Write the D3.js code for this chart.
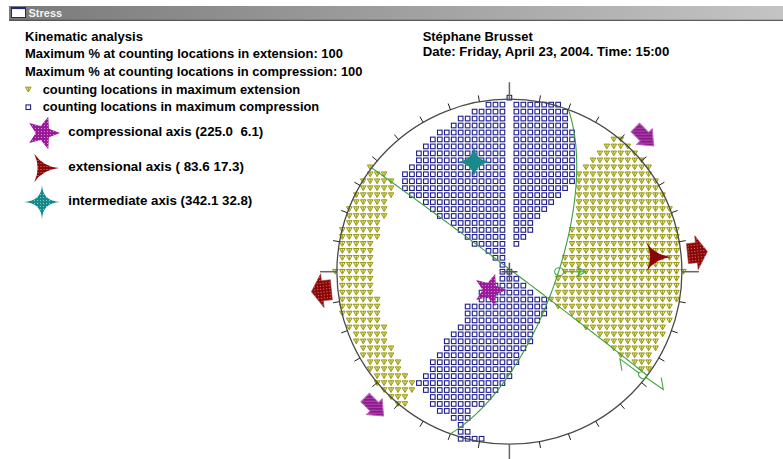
<!DOCTYPE html>
<html><head><meta charset="utf-8">
<script src="https://cdn.jsdelivr.net/npm/d3@7"></script>
<style>html,body{margin:0;padding:0;background:#fff;overflow:hidden}svg{display:block}text{white-space:pre}</style>
</head><body><svg id="c" width="783" height="459"></svg>
<script>
// ================= DATA =================
const windowTitle = "Stress";
const headerLines = ["Kinematic analysis",
  "Maximum % at counting locations in extension: 100",
  "Maximum % at counting locations in compression: 100"];
const legendItems = ["counting locations in maximum extension",
  "counting locations in maximum compression"];
const axisNames  = ["compressional axis", "extensional axis", "intermediate axis"];
const axisLabels = ["(225.0  6.1)", "( 83.6 17.3)", "(342.1 32.8)"];
const axisTrend  = [226.7, 84.2, 342.1];   // plotted positions (trend, plunge)
const axisPlunge = [77.4, 16.3, 33.6];
const authorLines = ["Stéphane Brusset", "Date: Friday, April 23, 2004. Time: 15:00"];
// nodal planes (dip direction, dip)
const planeDipDir = [37, 110];
const planeDip    = [89, 68];
// slip markers (trend, plunge)
const slipTrend  = [90, 127.5];
const slipPlunge = [66.7, 3];
// outer direction arrows (trend)
const extArrowTrend  = [84.2, 264.2];
const compArrowTrend = [45, 225];
// counting grid: rows [row, firstCol, lastCol]
const compressionRows = [
 [-25,0,0],
 [-24,-3,-1],[-24,1,7],[-23,-5,-1],[-23,1,8],[-22,-7,-1],[-22,1,8],[-21,-8,-1],[-21,1,8],
 [-20,-10,-1],[-20,1,9],[-19,-11,-1],[-19,1,9],[-18,-12,-1],[-18,1,9],[-17,-13,-1],[-17,1,9],
 [-16,-13,-1],[-16,1,9],[-15,-14,-1],[-15,1,9],[-14,-15,-1],[-14,1,9],[-13,-15,-1],[-13,1,9],
 [-12,-15,-1],[-12,1,8],[-11,-14,-1],[-11,1,7],[-10,-12,-1],[-10,1,6],[-9,-11,-1],[-9,1,5],
 [-8,-10,-1],[-8,1,4],[-7,-8,-1],[-7,1,3],[-6,-7,-1],[-6,1,3],[-5,-6,-1],[-5,1,2],
 [-4,-5,-1],[-4,1,1],[-3,-3,-1],[-2,-2,-1],[-1,-1,-1],
 [0,-1,0],[1,-1,1],[2,-3,2],[3,-4,3],[4,-4,5],[5,-6,5],[6,-6,5],[7,-6,4],[8,-7,3],
 [9,-8,3],[10,-9,3],[11,-9,2],[12,-10,1],[13,-11,1],[14,-11,0],[15,-12,0],[16,-13,-1],
 [17,-12,-2],[18,-11,-3],[19,-11,-4],[20,-10,-6],[21,-8,-6],[22,-7,-7],[23,-7,-6],[24,-7,-4]
];
const extensionRows = [
 [-15,-20,-20],[-14,-20,-18],[-13,-21,-17],[-12,-21,-17],[-11,-22,-17],[-10,-22,-18],
 [-9,-23,-18],[-8,-23,-18],[-7,-23,-19],[-6,-24,-19],[-5,-24,-19],[-4,-24,-20],[-3,-24,-20],
 [-2,-24,-20],[-1,-24,-20],[0,-25,-20],[1,-24,-20],[2,-24,-20],[3,-24,-20],[4,-24,-19],
 [5,-24,-19],[6,-24,-19],[7,-23,-19],[8,-23,-18],[9,-22,-18],[10,-22,-18],[11,-21,-17],
 [12,-21,-17],[13,-20,-16],[14,-20,-16],[15,-19,-15],[16,-19,-14],[17,-18,-14],[18,-17,-15],
 [19,-16,-15],
 [-19,15,16],[-18,14,17],[-17,13,18],[-16,12,19],[-15,11,20],[-14,10,20],[-13,10,21],
 [-12,10,21],[-11,10,22],[-10,10,22],[-9,10,23],[-8,10,23],[-7,10,23],[-6,9,24],[-5,9,24],
 [-4,9,24],[-3,9,24],[-2,8,24],[-1,8,24],[0,8,25],[1,7,24],[2,7,24],[3,7,24],[4,6,24],
 [5,7,23],[6,9,23],[7,10,23],[8,11,22],[9,13,22],[10,14,21],[11,15,21],[12,16,20],
 [13,18,20],[14,19,20]
];

// ================= LAYOUT =================
const W = 783, H = 459;
const cx = 509.4, cy = 271.7, R = 172.5, gridN = 24.78;
const svg = d3.select("#c");
const gx = d3.scaleLinear().domain([-gridN, gridN]).range([cx - R, cx + R]);
const gy = d3.scaleLinear().domain([-gridN, gridN]).range([cy - R, cy + R]);
const rS = d3.scaleLinear().domain([0, 1]).range([0, R]);
const rad = Math.PI / 180;
function proj(trend, plunge) {
  const r = rS(Math.SQRT2 * Math.sin((90 - plunge) / 2 * rad));
  return [cx + r * Math.sin(trend * rad), cy - r * Math.cos(trend * rad)];
}
function polar(trend, r) { return [cx + r * Math.sin(trend * rad), cy - r * Math.cos(trend * rad)]; }
function expand(rows) {
  const out = [];
  rows.forEach(([i, a, b]) => { for (let j = a; j <= b; j++) out.push({i, j}); });
  return out;
}

// defs
const defs = svg.append("defs");
const grad = defs.append("linearGradient").attr("id", "bar").attr("x1", 0).attr("x2", 1);
grad.append("stop").attr("offset", 0).attr("stop-color", "#7a7a7a");
grad.append("stop").attr("offset", 1).attr("stop-color", "#c4c4c4");
const sp = defs.append("pattern").attr("id", "speck").attr("width", 3).attr("height", 3)
  .attr("patternUnits", "userSpaceOnUse");
sp.append("rect").attr("x", 1).attr("y", 1).attr("width", 1).attr("height", 1).attr("fill", "#fff").attr("opacity", 0.5);
const hp = defs.append("pattern").attr("id", "hatch").attr("width", 3).attr("height", 3)
  .attr("patternUnits", "userSpaceOnUse").attr("patternTransform", "rotate(45)");
hp.append("rect").attr("width", 0.8).attr("height", 3).attr("fill", "#fff").attr("opacity", 0.3);

// title bar
svg.append("rect").attr("x", 9).attr("y", 6).attr("width", W - 9).attr("height", 14.5).attr("fill", "url(#bar)");
svg.append("line").attr("x1", 9).attr("x2", W).attr("y1", 20.3).attr("y2", 20.3).attr("stroke", "#3c3c3c").attr("stroke-width", 1);
svg.append("rect").attr("x", 11.5).attr("y", 7.5).attr("width", 14).attr("height", 10).attr("fill", "#fff").attr("stroke", "#1b2a78").attr("stroke-width", 1);
svg.append("line").attr("x1", 11.5).attr("x2", 25.5).attr("y1", 8.3).attr("y2", 8.3).attr("stroke", "#1b2a78").attr("stroke-width", 1.6);
svg.append("text").attr("x", 28.5).attr("y", 17).attr("font-family", "Liberation Sans, Arial, sans-serif")
  .attr("font-weight", "bold").attr("font-size", 11).attr("fill", "#f4f4f4").text(windowTitle);

const font = "Liberation Sans, Arial, sans-serif";
function label(x, y, str, len) {
  svg.append("text").attr("x", x).attr("y", y).attr("font-family", font).attr("font-weight", "bold")
    .attr("font-size", 12.5).attr("fill", "#000").attr("textLength", len).attr("lengthAdjust", "spacingAndGlyphs").text(str);
}
const headerLens = [118, 318, 337.5];
const headerY = [40.8, 58, 75.6];
headerLines.forEach((t, k) => label(25, headerY[k], t, headerLens[k]));
const legLens = [257.5, 276.5], legY = [93.5, 110.8];
legendItems.forEach((t, k) => label(42.7, legY[k], t, legLens[k]));
const axLens = [195, 175.7, 184], axY = [136.3, 170.6, 205.4];
axisNames.forEach((t, k) => label(68.3, axY[k], t + " " + axisLabels[k], axLens[k]));
const auLens = [110, 246.6], auY = [40.8, 56.3];
authorLines.forEach((t, k) => label(422.7, auY[k], t, auLens[k]));

// glyph builders
const triPath = "M-2.8,-2.3L2.8,-2.3L0,2.5Z";
function drawTri(g) {
  g.append("path").attr("d", triPath).attr("fill", "#ecec9c").attr("stroke", "#8c8c00").attr("stroke-width", 0.9);
  g.append("path").attr("d", "M0,-2.3V1.3").attr("stroke", "#8c8c00").attr("stroke-width", 0.8);
}
function drawSq(g) {
  g.append("rect").attr("x", -2.3).attr("y", -2.3).attr("width", 4.6).attr("height", 4.6)
    .attr("fill", "#fff").attr("stroke", "#1e1e8c").attr("stroke-width", 1.1);
}
// legend small glyphs
drawTri(svg.append("g").attr("transform", "translate(28.3,89.5)"));
drawSq(svg.append("g").attr("transform", "translate(28.3,107.2)"));

function starPath(n, ro, ri, rot) {
  const p = [];
  for (let k = 0; k < 2 * n; k++) {
    const a = (rot + k * 180 / n) * rad, r = k % 2 ? ri : ro;
    p.push([r * Math.cos(a), r * Math.sin(a)]);
  }
  return "M" + p.map(q => q[0].toFixed(2) + "," + q[1].toFixed(2)).join("L") + "Z";
}
function curvedStar(n, rx, ry, rc, rot) {
  let d = "";
  for (let k = 0; k < n; k++) {
    const a = (rot + k * 360 / n) * rad, b = (rot + (k + 1) * 360 / n) * rad, m = (rot + (k + 0.5) * 360 / n) * rad;
    const t0 = [rx * Math.cos(a), ry * Math.sin(a)], t1 = [rx * Math.cos(b), ry * Math.sin(b)];
    if (k === 0) d += "M" + t0[0].toFixed(2) + "," + t0[1].toFixed(2);
    d += "Q" + (rc * Math.cos(m)).toFixed(2) + "," + (rc * Math.sin(m)).toFixed(2) + " " + t1[0].toFixed(2) + "," + t1[1].toFixed(2);
  }
  return d + "Z";
}
const starColors = ["#9a1a9a", "#8c0606", "#178a8a"];
const starPaths = [starPath(5, 17, 7.3, 0), curvedStar(3, 16.5, 16.5, 1.5, 0), curvedStar(4, 18, 17, 1.2, 0)];
function drawStar(k, x, y, speck) {
  const g = svg.append("g").attr("transform", `translate(${x},${y})`);
  g.append("path").attr("d", starPaths[k]).attr("fill", starColors[k]);
  if (speck) g.append("path").attr("d", starPaths[k]).attr("fill", "url(#speck)");
  return g;
}
const legendStarPos = [[43, 133], [42.5, 168], [42, 202]];
legendStarPos.forEach((p, k) => drawStar(k, p[0], p[1], true));

// ================= STEREONET =================
const net = svg.append("g");
// counting locations
net.append("g").selectAll("g").data(expand(extensionRows)).join("g")
  .attr("transform", d => `translate(${gx(d.j)},${gy(d.i)})`).each(function () { drawTri(d3.select(this)); });
net.append("g").selectAll("g").data(expand(compressionRows)).join("g")
  .attr("transform", d => `translate(${gx(d.j)},${gy(d.i)})`).each(function () { drawSq(d3.select(this)); });

// primitive circle and ticks
net.append("circle").attr("cx", cx).attr("cy", cy).attr("r", R).attr("fill", "none").attr("stroke", "#4a4a4a").attr("stroke-width", 1.3);
const tickAz = d3.range(0, 360, 10);
net.append("g").selectAll("line").data(tickAz).join("line")
  .attr("x1", a => polar(a, R)[0]).attr("y1", a => polar(a, R)[1])
  .attr("x2", a => polar(a, R + (a % 90 === 0 ? 17 : 6.5))[0])
  .attr("y2", a => polar(a, R + (a % 90 === 0 ? 17 : 6.5))[1])
  .attr("stroke", a => a % 90 === 0 ? "#666" : "#222").attr("stroke-width", a => a % 90 === 0 ? 1.5 : 1);

// nodal planes (great circles, equal-area lower hemisphere)
const line = d3.line();
planeDipDir.forEach((dd, k) => {
  const dip = planeDip[k], str = dd - 90;
  const s = [Math.sin(str * rad), Math.cos(str * rad), 0];
  const dv = [Math.cos(dip * rad) * Math.sin(dd * rad), Math.cos(dip * rad) * Math.cos(dd * rad), Math.sin(dip * rad)];
  const pts = d3.range(0, 180.5, 1).map(t => {
    const c = Math.cos(t * rad), sn = Math.sin(t * rad);
    const v = [c * s[0] + sn * dv[0], c * s[1] + sn * dv[1], c * s[2] + sn * dv[2]];
    const tr = Math.atan2(v[0], v[1]) / rad, pl = Math.asin(Math.min(1, Math.max(-1, v[2]))) / rad;
    return proj(tr, pl);
  });
  net.append("path").attr("d", line(pts)).attr("fill", "none").attr("stroke", "#3d9e3d").attr("stroke-width", 1.1);
});

// slip markers
const green = "#46a846";
(function () {
  const p = proj(slipTrend[0], slipPlunge[0]);
  const g = net.append("g").attr("transform", `translate(${p[0]},${p[1]})`).attr("fill", "none").attr("stroke", green).attr("stroke-width", 1.1);
  g.append("ellipse").attr("rx", 4.5).attr("ry", 4).attr("cx", 0.5);
  g.append("path").attr("d", "M5,0H27M18,-5L27,0L18,5M18,-5L22,0L18,5");
})();
(function () {
  const p = proj(slipTrend[1], slipPlunge[1]);
  const g = net.append("g").attr("transform", `translate(${p[0]},${p[1] + 1.5}) rotate(32)`).attr("fill", "none").attr("stroke", green).attr("stroke-width", 1.1);
  g.append("ellipse").attr("rx", 4.5).attr("ry", 3);
  g.append("path").attr("d", "M-4,0L-28,-2L-20,7M4,0L25,1L17,-8");
})();

// centre cross
net.append("path").attr("d", `M${cx - 8},${cy}H${cx + 8}M${cx},${cy - 9}V${cy + 9}`).attr("stroke", "#555").attr("stroke-width", 1.5);

// principal axes
axisTrend.forEach((t, k) => {
  const p = proj(t, axisPlunge[k]);
  drawStar(k, p[0], p[1], k === 0);
});

// extension arrows (outward)
const extArrow = "M0,-10L9,-10L9,-17L20,0L9,17L9,10L0,10Z";
extArrowTrend.forEach(t => {
  const p = polar(t, R + 6.5);
  const g = net.append("g").attr("transform", `translate(${p[0]},${p[1]}) rotate(${t - 90})`);
  g.append("path").attr("d", extArrow).attr("fill", "#8c0606").attr("stroke", "#a83030").attr("stroke-width", 0.6);
  g.append("path").attr("d", extArrow).attr("fill", "url(#speck)");
});
// compression arrows
const compArrow = "M-13,-6L0,-6L0,-11L13,0L0,11L0,6L-13,6Z";
compArrowTrend.forEach(t => {
  const p = polar(t, R + 18.5);
  const g = net.append("g").attr("transform", `translate(${p[0]},${p[1]}) rotate(45)`);
  g.append("path").attr("d", compArrow).attr("fill", "#8e168e").attr("stroke", "#b860b8").attr("stroke-width", 1);
  g.append("path").attr("d", compArrow).attr("fill", "url(#hatch)");
});
</script></body></html>
